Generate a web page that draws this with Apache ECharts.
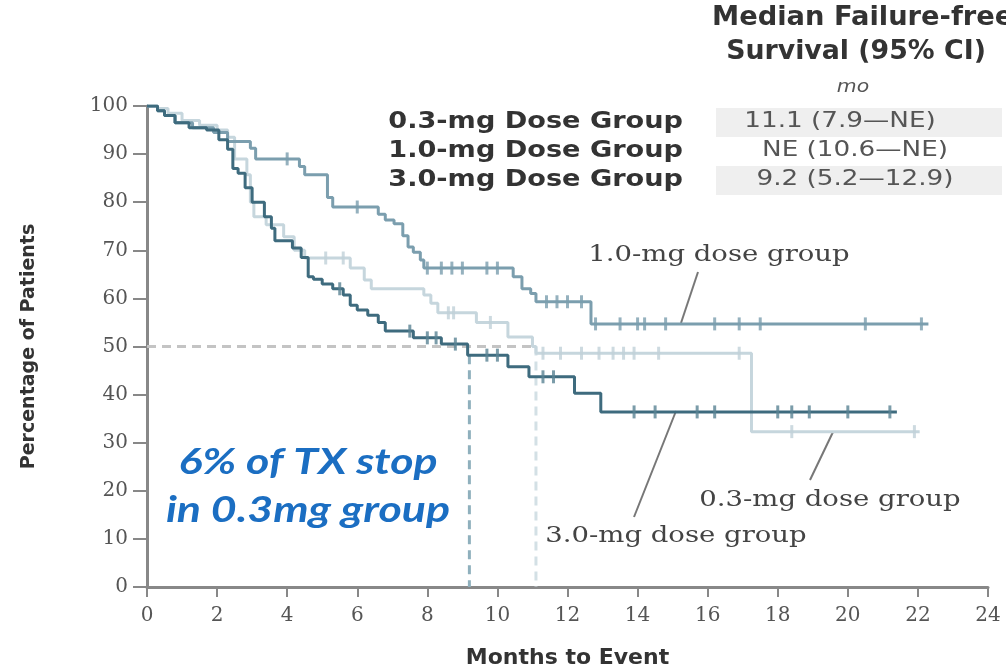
<!DOCTYPE html>
<html><head><meta charset="utf-8">
<script src="https://cdn.jsdelivr.net/npm/echarts@6/dist/echarts.min.js"></script>
<style>html,body{margin:0;padding:0;background:#fff}#c{width:1006px;height:668px}</style>
</head><body><div id="c"></div>
<script>
// ---- data ----
const xTicks = [0,2,4,6,8,10,12,14,16,18,20,22,24];
const yTicks = [0,10,20,30,40,50,60,70,80,90,100];
const groups = ['0.3-mg Dose Group','1.0-mg Dose Group','3.0-mg Dose Group'];
const medians = ['11.1 (7.9\u2014NE)','NE (10.6\u2014NE)','9.2 (5.2\u201412.9)'];
const medianTimes = [11.1, 9.2];
// step curves: [month, percent] (level starts at month)
const dose03 = [[0,100],[0.3,99.5],[0.6,98.5],[1.0,97],[1.5,96],[2.0,95],[2.3,93.5],[2.5,89],[2.85,85.7],[2.95,80],[3.05,77],[3.4,75.3],[3.9,72.8],[4.2,70],[4.5,68.4],[5.8,66.3],[6.2,63.8],[6.4,62],[7.9,60.7],[8.1,59],[8.3,57],[9.4,55],[10.3,52],[11.0,50],[11.1,48.6],[17.25,32.3],[22.05,32.3]];
const dose10 = [[0,100],[0.3,99],[0.5,98],[0.8,96.5],[1.3,95.5],[1.9,94.5],[2.3,92.6],[2.95,91.2],[3.1,89],[4.35,87.4],[4.5,85.7],[5.15,81],[5.3,79],[6.6,77.5],[6.8,76.3],[7.05,75.5],[7.3,73],[7.45,70.7],[7.6,69.6],[7.8,68],[7.9,66.3],[10.45,64.5],[10.7,62],[10.95,61],[11.1,59.3],[12.67,54.7],[22.3,54.7]];
const dose30 = [[0,100],[0.3,99],[0.5,98],[0.8,96.5],[1.2,95.5],[1.7,95],[2.05,93],[2.3,91],[2.45,87],[2.6,86],[2.8,83],[3.0,80],[3.35,77],[3.55,74.6],[3.65,72],[4.15,70.5],[4.4,68.5],[4.6,64.5],[4.75,64],[5.0,63],[5.3,62],[5.6,60.7],[5.8,58.6],[6.0,57.6],[6.3,56.5],[6.6,55],[6.8,53.2],[7.6,51.8],[8.4,50.5],[9.15,48.2],[10.3,45.8],[10.9,43.7],[12.2,40.3],[12.95,36.4],[21.4,36.4]];
// censor times (months)
const cens03 = [5.1,5.6,8.6,8.75,9.8,11.3,11.8,12.4,12.9,13.3,13.6,13.9,14.6,16.9,18.4,21.9];
const cens10 = [4.0,6.0,8.0,8.4,8.7,9.0,9.7,10.0,11.4,11.7,12.0,12.4,12.8,13.5,14.0,14.2,14.8,16.2,16.9,17.5,20.5,22.1];
const cens30 = [5.5,7.5,8.0,8.25,8.8,9.7,10.0,11.3,11.6,13.9,14.5,15.7,16.2,18.0,18.4,18.9,20.0,21.2];

const C03 = '#c6d6dd', C10 = '#7b9eae', C30 = '#3e6b7e';

function levelAt(curve, t){ let v = curve[0][1]; for (const p of curve){ if (p[0] <= t) v = p[1]; } return v; }
function censPts(curve, times){ return times.map(t => [t, levelAt(curve, t)]); }

const chart = echarts.init(document.getElementById('c'), null, {renderer:'canvas'});
const serifF = '"DejaVu Serif", "Liberation Serif", serif';
const sansF = '"DejaVu Sans", "Liberation Sans", sans-serif';

function stepLine(data, color, z){
  return {type:'line', step:'end', data, symbol:'none', z, lineStyle:{color, width:3}, animation:false};
}
function cens(curve, times, color, z){
  return {type:'scatter', data:censPts(curve, times), symbol:'rect', symbolSize:[3,13], z, itemStyle:{color}, animation:false};
}
function txt(x, y, text, font, fill, align, sx){
  return {type:'text', x, y, scaleX:sx||1, style:{text, font, fill, align, verticalAlign:'middle'}};
}

const option = {
  animation:false,
  grid:{left:147, right:18, top:106, bottom:81, containLabel:false, outerBoundsMode:'none'},
  xAxis:{type:'value', min:0, max:24, interval:2,
    axisLine:{lineStyle:{color:'#888', width:3}},
    axisTick:{length:10, lineStyle:{color:'#888', width:2}},
    axisLabel:{color:'#555', fontFamily:serifF, fontSize:20, margin:19, formatter:v=>xTicks.includes(v)?String(v):''},
    splitLine:{show:false},
    name:'Months to Event', nameLocation:'middle', nameGap:60,
    nameTextStyle:{fontFamily:sansF, fontWeight:'bold', fontSize:22, color:'#333'}
  },
  yAxis:{type:'value', min:0, max:100, interval:10,
    axisLine:{show:true, lineStyle:{color:'#888', width:3}},
    axisTick:{show:true, length:14, lineStyle:{color:'#888', width:2}},
    axisLabel:{color:'#555', fontFamily:serifF, fontSize:20, margin:19, formatter:v=>yTicks.includes(v)?String(v):''},
    splitLine:{show:false},
    name:'Percentage of Patients', nameLocation:'middle', nameGap:108, nameRotate:90,
    nameTextStyle:{fontFamily:sansF, fontWeight:'bold', fontSize:19, color:'#333'}
  },
  series:[
    {type:'line', data:[[0,50],[medianTimes[0],50]], symbol:'none', z:1, lineStyle:{color:'#c4c4c4', width:3, type:[9,6]}},
    {type:'line', data:[[medianTimes[1],levelAt(dose30, medianTimes[1])],[medianTimes[1],0]], symbol:'none', z:1, lineStyle:{color:'#8fb0bd', width:3, type:[9,6]}},
    {type:'line', data:[[medianTimes[0],50],[medianTimes[0],0]], symbol:'none', z:1, lineStyle:{color:'#d3e0e5', width:3, type:[9,6]}},
    stepLine(dose03, C03, 2),
    cens(dose03, cens03, '#c0d1d8', 3),
    stepLine(dose10, C10, 4),
    cens(dose10, cens10, C10, 5),
    stepLine(dose30, C30, 6),
    cens(dose30, cens30, '#5a8394', 7)
  ],
  graphic:[
    txt(712, 18, 'Median Failure-free', 'bold 26px '+sansF, '#333', 'left', 1.05),
    txt(856, 52, 'Survival (95% CI)', 'bold 26px '+sansF, '#333', 'center', 1.03),
    txt(853, 88, 'mo', 'italic 17px '+sansF, '#555', 'center', 1.2),
    {type:'rect', shape:{x:716, y:108, width:286, height:29}, style:{fill:'#efefef'}, z:0},
    {type:'rect', shape:{x:716, y:166, width:286, height:29}, style:{fill:'#efefef'}, z:0},
    txt(683, 122, groups[0], 'bold 23px '+sansF, '#333', 'right', 1.18),
    txt(683, 151, groups[1], 'bold 23px '+sansF, '#333', 'right', 1.18),
    txt(683, 180, groups[2], 'bold 23px '+sansF, '#333', 'right', 1.18),
    txt(840, 122, medians[0], '21px '+sansF, '#555', 'center', 1.25),
    txt(855, 151, medians[1], '21px '+sansF, '#555', 'center', 1.25),
    txt(855, 180, medians[2], '21px '+sansF, '#555', 'center', 1.25),
    txt(719, 255, '1.0-mg dose group', '22px '+serifF, '#444', 'center', 1.25),
    {type:'line', shape:{x1:698, y1:272, x2:681, y2:323}, style:{stroke:'#777', lineWidth:2}},
    txt(830, 500, '0.3-mg dose group', '22px '+serifF, '#444', 'center', 1.25),
    {type:'line', shape:{x1:833, y1:432, x2:810, y2:480}, style:{stroke:'#777', lineWidth:2}},
    txt(676, 536, '3.0-mg dose group', '22px '+serifF, '#444', 'center', 1.25),
    {type:'line', shape:{x1:676, y1:411, x2:634, y2:517}, style:{stroke:'#777', lineWidth:2}},
    txt(308, 462, '6% of TX stop', 'italic bold 36px Lato, "Open Sans", sans-serif', '#1b6ec2', 'center', 1.24),
    txt(308, 510, 'in 0.3mg group', 'italic bold 36px Lato, "Open Sans", sans-serif', '#1b6ec2', 'center', 1.24)
  ]
};
chart.setOption(option);
</script></body></html>
